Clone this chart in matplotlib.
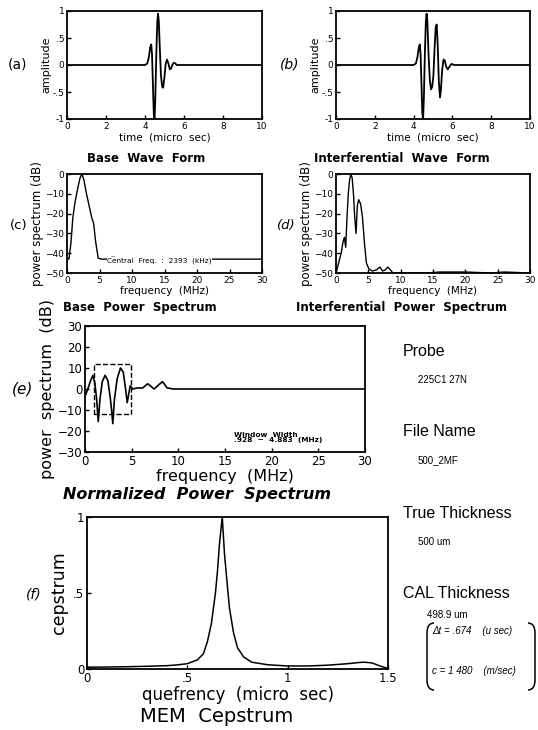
import numpy as np
import matplotlib
matplotlib.use("Agg")
import matplotlib.pyplot as plt
from matplotlib.patches import Rectangle, PathPatch
from matplotlib.path import Path

plt.rcParams['font.family'] = ['DejaVu Sans']

# (a) base wave form
base_t = [0, 4.0, 4.12, 4.2, 4.27, 4.32, 4.36, 4.41, 4.45, 4.49, 4.53, 4.58, 4.63, 4.67, 4.71, 4.76,
          4.82, 4.88, 4.93, 4.99, 5.06, 5.13, 5.2, 5.27, 5.33, 5.4, 5.47, 5.55, 5.63, 5.75, 10]
base_a = [0, 0, 0.03, 0.15, 0.33, 0.38, 0.2, -0.4, -0.9, -1.0, -0.6, 0.2, 0.8, 0.95, 0.8, 0.3,
          -0.2, -0.4, -0.42, -0.25, 0.02, 0.1, 0.03, -0.08, -0.07, 0.0, 0.04, 0.03, 0.0, 0.0, 0]

# (b) interferential wave form
int_t = [0, 4.0, 4.12, 4.2, 4.27, 4.32, 4.36, 4.41, 4.45, 4.49, 4.53, 4.58, 4.63, 4.67, 4.71, 4.77,
         4.84, 4.9, 4.96, 5.02, 5.08, 5.14, 5.19, 5.24, 5.3, 5.36, 5.41, 5.47, 5.54, 5.61, 5.68,
         5.76, 5.85, 5.95, 6.1, 10]
int_a = [0, 0, 0.03, 0.15, 0.33, 0.38, 0.2, -0.4, -0.9, -1.0, -0.6, 0.2, 0.8, 0.95, 0.8, 0.2,
         -0.3, -0.45, -0.4, -0.2, 0.3, 0.7, 0.75, 0.4, -0.3, -0.6, -0.45, -0.1, 0.1, 0.08, -0.03,
         -0.08, -0.03, 0.02, 0.0, 0]

# (c) base power spectrum
bps_f = [0, 0.3, 0.6, 0.9, 1.2, 1.6, 2.0, 2.3, 2.6, 3.0, 3.4, 3.8, 4.1, 4.4, 4.8, 5.3, 6.0, 7.0, 7.6, 8.5, 12, 30]
bps_db = [-42.5, -43, -35, -22, -15, -8, -2, 0, -3, -10, -16, -22, -25, -34, -42.5, -43, -43, -42, -42.3, -43, -43, -43]

# (d) interferential power spectrum
ips_f = [0, 0.4, 0.8, 1.1, 1.3, 1.5, 1.7, 1.9, 2.1, 2.3, 2.5, 2.7, 2.9, 3.1, 3.3, 3.5, 3.8, 4.1, 4.4, 4.7,
         5.1, 5.6, 6.2, 6.8, 7.2, 7.6, 8.0, 8.3, 8.8, 10, 14, 16, 20, 24, 26, 30]
ips_db = [-50, -45, -40, -34, -32, -37, -22, -10, -3, 0, -2, -10, -22, -30, -16, -13, -15, -22, -35, -45,
          -48, -49, -48.5, -47, -49, -48.5, -47, -48, -50, -50, -50, -49.5, -49.5, -50, -49.5, -50]

# (e) normalized power spectrum
nps_f = [0, 0.3, 0.6, 0.85, 1.05, 1.25, 1.42, 1.6, 1.85, 2.15, 2.45, 2.7, 2.85, 2.98, 3.15, 3.45, 3.8,
         4.1, 4.35, 4.52, 4.7, 4.85, 5.1, 5.6, 6.2, 6.7, 7.0, 7.4, 7.9, 8.3, 8.8, 9.5, 30]
nps_db = [-3.5, 0, 4, 6.5, 3, -5, -15.5, -5, 3.5, 6.5, 4, -4, -10, -16.5, -5, 5, 10,
          8, 0, -6.5, -2, 1.5, 0, 0.5, 0.5, 2.5, 1.5, 0, 2, 3.5, 0.5, 0, 0]
window = [0.928, 4.883]
window_db = [-12, 12]

# (f) MEM cepstrum
cep_q = [0, 0.1, 0.2, 0.3, 0.4, 0.45, 0.5, 0.55, 0.58, 0.6, 0.62, 0.64, 0.65, 0.66, 0.674,
         0.685, 0.7, 0.71, 0.73, 0.75, 0.78, 0.82, 0.9, 1.0, 1.1, 1.2, 1.3, 1.35, 1.38, 1.42, 1.46, 1.5]
cep_v = [0.012, 0.013, 0.015, 0.018, 0.022, 0.027, 0.035, 0.06, 0.1, 0.18, 0.3, 0.5, 0.64, 0.82, 1.0,
         0.76, 0.54, 0.4, 0.24, 0.14, 0.08, 0.045, 0.028, 0.02, 0.02, 0.025, 0.035, 0.042, 0.045, 0.04, 0.02, 0.003]

W, H = 538, 730
fig = plt.figure(figsize=(W / 100, H / 100), dpi=100)


def rect(x0, y0, x1, y1):
    return [x0 / W, 1 - y1 / H, (x1 - x0) / W, (y1 - y0) / H]


def ftext(x, y, s, **kw):
    kw.setdefault('ha', 'left')
    kw.setdefault('va', 'center')
    fig.text(x / W, 1 - y / H, s, **kw)


def style(ax, size):
    for sp in ax.spines.values():
        sp.set_linewidth(1.3)
    ax.tick_params(direction='in', length=3, width=1, labelsize=size, pad=2)


def short(v, pos=None):
    s = ('%g' % v)
    return s.replace('0.', '.')


def bracket(x_tip, x_back, y0, y1):
    # tall bracket with curled ends, in picture pixels
    pts = [(x_tip, y0), (x_back, y0), (x_back, y0 + 10),
           (x_back, y1 - 10), (x_back, y1), (x_tip, y1)]
    codes = [Path.MOVETO, Path.CURVE3, Path.CURVE3,
             Path.LINETO, Path.CURVE3, Path.CURVE3]
    pts = [(px / W, 1 - py / H) for px, py in pts]
    fig.add_artist(PathPatch(Path(pts, codes), transform=fig.transFigure,
                             fill=False, lw=1.1, ec='black'))


# wave forms
for rc, t, a, lab, lx in [((67, 11, 262, 119), base_t, base_a, '(a)', 8),
                           ((336, 11, 530, 119), int_t, int_a, '(b)', 280)]:
    ax = fig.add_axes(rect(*rc))
    ax.plot(t, a, color='black', lw=1.3)
    ax.set_xlim(0, 10)
    ax.set_ylim(-1, 1)
    ax.set_xticks([0, 2, 4, 6, 8, 10])
    ax.set_yticks([-1, -0.5, 0, 0.5, 1])
    ax.yaxis.set_major_formatter(plt.FuncFormatter(short))
    style(ax, 6.5)
    ax.set_ylabel('amplitude', fontsize=8, labelpad=1)
    ax.set_xlabel('time  (micro  sec)', fontsize=7.5, labelpad=1)
    ftext(lx, 64, lab, fontsize=10, style='italic' if lab == '(b)' else 'normal')

ftext(146, 158, 'Base  Wave  Form', fontsize=8.5, weight='bold', ha='center')
ftext(402, 158, 'Interferential  Wave  Form', fontsize=8.5, weight='bold', ha='center')

# power spectra
for rc, f, db, lo, lab, lx in [((67, 174, 262, 273), bps_f, bps_db, -50, '(c)', 10),
                                ((336, 174, 530, 273), ips_f, ips_db, -50, '(d)', 277)]:
    ax = fig.add_axes(rect(*rc))
    ax.plot(f, db, color='black', lw=1.0)
    ax.set_xlim(0, 30)
    ax.set_ylim(lo, 0)
    ax.set_xticks([0, 5, 10, 15, 20, 25, 30])
    ax.set_yticks([-50, -40, -30, -20, -10, 0])
    style(ax, 6.5)
    ax.set_ylabel('power spectrum (dB)', fontsize=8.5, labelpad=1)
    ax.set_xlabel('frequency  (MHz)', fontsize=7.5, labelpad=1)
    ftext(lx, 226, lab, fontsize=9.5, style='italic' if lab == '(d)' else 'normal')
    if lab == '(c)':
        ax.text(6.2, -44, 'Central  Freq.  :  2393  (kHz)', fontsize=5.3, va='center',
                bbox=dict(fc='white', ec='none', pad=0.3))

ftext(140, 307, 'Base  Power  Spectrum', fontsize=8.5, weight='bold', ha='center')
ftext(402, 307, 'Interferential  Power  Spectrum', fontsize=8.5, weight='bold', ha='center')

# normalized power spectrum
ax = fig.add_axes(rect(85, 326, 365, 452))
ax.plot(nps_f, nps_db, color='black', lw=1.2)
ax.add_patch(Rectangle((window[0], window_db[0]), window[1] - window[0], window_db[1] - window_db[0],
                       fill=False, ls='--', lw=1.0, ec='black'))
ax.set_xlim(0, 30)
ax.set_ylim(-30, 30)
ax.set_xticks([0, 5, 10, 15, 20, 25, 30])
ax.set_yticks([-30, -20, -10, 0, 10, 20, 30])
style(ax, 8.5)
ax.set_ylabel('power  spectrum  (dB)', fontsize=11.5, labelpad=2)
ax.set_xlabel('frequency  (MHz)', fontsize=11.5, labelpad=1)
ax.text(16, -23, 'Window  Width\n.928  \u2212  4.883  (MHz)', fontsize=5.3, weight='bold',
        va='center', linespacing=0.9)
ftext(12, 389, '(e)', fontsize=11, style='italic')
ftext(197, 494, 'Normalized  Power  Spectrum', fontsize=11.5, weight='bold', style='italic', ha='center')

# cepstrum
ax = fig.add_axes(rect(87, 517, 388, 669))
ax.plot(cep_q, cep_v, color='black', lw=1.1)
ax.set_xlim(0, 1.5)
ax.set_ylim(0, 1)
ax.set_xticks([0, 0.5, 1, 1.5])
ax.set_yticks([0, 0.5, 1])
ax.xaxis.set_major_formatter(plt.FuncFormatter(short))
ax.yaxis.set_major_formatter(plt.FuncFormatter(short))
style(ax, 8.5)
ax.set_ylabel('cepstrum', fontsize=12.5, labelpad=4)
ax.set_xlabel('quefrency  (micro  sec)', fontsize=12, labelpad=1)
ftext(26, 594, '(f)', fontsize=10, style='italic')
ftext(217, 717, 'MEM  Cepstrum', fontsize=14, ha='center')

# info column
lib = ['Liberation Sans', 'DejaVu Sans']
ftext(403, 352, 'Probe', fontsize=11.5, family=lib)
ftext(418, 380, '225C1 27N', fontsize=7, family=lib)
ftext(403, 432, 'File Name', fontsize=11.5, family=lib)
ftext(418, 460, '500_2MF', fontsize=7, family=lib)
ftext(403, 514, 'True Thickness', fontsize=11.5, family=lib)
ftext(418, 542, '500 um', fontsize=7, family=lib)
ftext(403, 593, 'CAL Thickness', fontsize=11.5, family=lib)
ftext(427, 615, '498.9 um', fontsize=7, family=lib)
ftext(432, 631, '\u0394t = .674    (u sec)', fontsize=7, style='italic', family=lib)
ftext(432, 671, 'c = 1 480    (m/sec)', fontsize=7, style='italic', family=lib)
bracket(434, 427, 623, 690)
bracket(528, 535, 623, 690)

fig.savefig('out.png', dpi=100)
